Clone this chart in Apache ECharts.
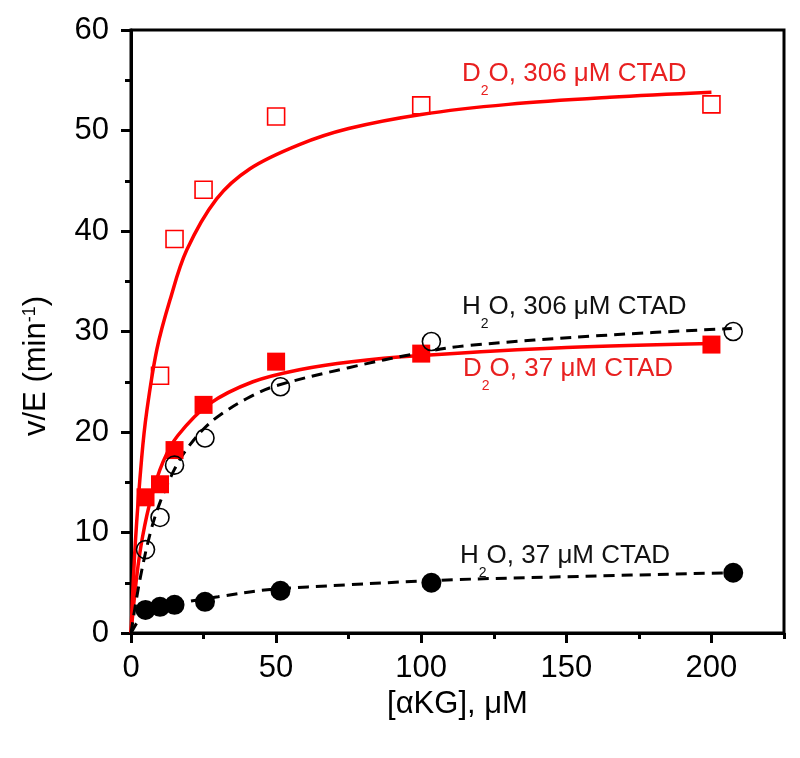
<!DOCTYPE html>
<html>
<head>
<meta charset="utf-8">
<script src="https://cdn.jsdelivr.net/npm/echarts@6/dist/echarts.min.js"></script>
<style>html,body{margin:0;padding:0;background:#fff}#c{width:800px;height:758px}</style>
</head>
<body>
<div id="c"></div>
<script>
// Tick values
const xMajorTicks = [0, 50, 100, 150, 200];
const xMinorTicks = [25, 75, 125, 175, 225];
const yMajorTicks = [0, 10, 20, 30, 40, 50, 60];
const yMinorTicks = [5, 15, 25, 35, 45, 55];

// Measured points
const d2o306X = [10, 15, 25, 50, 100, 200];
const d2o306Y = [25.6, 39.2, 44.1, 51.4, 52.5, 52.6];
const d2o37X = [5, 10, 15, 25, 50, 100, 200];
const d2o37Y = [13.5, 14.8, 18.2, 22.7, 27.0, 27.8, 28.7];
const h2o306X = [5, 10, 15, 25.5, 51.5, 103.5, 207.5];
const h2o306Y = [8.3, 11.5, 16.7, 19.4, 24.5, 29.0, 30.0];
const h2o37X = [5, 10, 15, 25.5, 51.5, 103.5, 207.5];
const h2o37Y = [2.3, 2.6, 2.8, 3.1, 4.2, 5.0, 6.0];

// Fitted curves
const fitD2o306X = [0, 1.5, 3.7, 5.4, 8.9, 13.4, 19.2, 29.5, 41, 58, 75, 100, 130, 165, 200];
const fitD2o306Y = [0, 9, 17.5, 22.0, 28.2, 33.1, 38.1, 43.2, 46.2, 48.6, 50.2, 51.6, 52.6, 53.3, 53.8];
const fitD2o37X = [0, 2, 4, 7, 11, 16, 27, 42, 58, 76, 100, 150, 200];
const fitD2o37Y = [0, 5.7, 9.6, 13.5, 17.0, 19.6, 22.8, 25.0, 26.2, 27.0, 27.6, 28.4, 28.8];
const fitH2o306X = [0, 3, 6.6, 10, 15, 19.2, 25, 30.7, 41, 50, 75, 100, 116, 162, 207];
const fitH2o306Y = [0, 5.2, 9.9, 13, 16.3, 18.3, 20.3, 21.7, 23.5, 24.6, 26.4, 27.9, 28.6, 29.6, 30.3];
const fitH2o37X = [0, 2, 4, 10, 19, 30, 47, 75, 111, 150, 207];
const fitH2o37Y = [0, 1.0, 1.8, 2.5, 3.1, 3.6, 4.3, 4.8, 5.3, 5.6, 6.0];

const zip = (xs, ys) => xs.map((x, i) => [x, ys[i]]);
const RED = '#ff0000';
const TXTRED = '#e82020';
const FONT = 'Liberation Sans, Arial, sans-serif';

const chart = echarts.init(document.getElementById('c'), null, {renderer: 'canvas'});

function labelText(main1, sub, main2, color) {
  return {
    text: '{a|' + main1 + '}{s|' + sub + '}{a|' + main2 + '}',
    rich: {
      a: {fontSize: 26, lineHeight: 30, fontFamily: FONT, fill: color, verticalAlign: 'top'},
      s: {fontSize: 14, lineHeight: 16, fontFamily: FONT, fill: color, verticalAlign: 'top', padding: [23, 0, 0, 0]}
    },
    align: 'left',
    verticalAlign: 'top'
  };
}

const lineCommon = {smooth: 0.35, showSymbol: false, symbol: 'none'};

const option = {
  animation: false,
  backgroundColor: '#fff',
  grid: {left: 131, right: 16, top: 30, bottom: 125, show: true, borderColor: '#000', borderWidth: 3, backgroundColor: 'transparent'},
  xAxis: [
    {
      type: 'value', min: 0, max: 225, position: 'bottom',
      axisLine: {show: true, onZero: false, lineStyle: {color: '#000', width: 3}},
      axisTick: {show: true, length: 10, customValues: xMajorTicks, lineStyle: {color: '#000', width: 3}},
      axisLabel: {show: true, customValues: xMajorTicks, margin: 20, fontSize: 31, fontFamily: FONT, color: '#000'},
      splitLine: {show: false},
      name: '[αKG], μM', nameLocation: 'middle', nameGap: 52,
      nameTextStyle: {fontSize: 31, fontFamily: FONT, color: '#000'}
    },
    {
      type: 'value', min: 0, max: 225, position: 'bottom',
      axisLine: {show: false},
      axisTick: {show: true, length: 6, customValues: xMinorTicks, lineStyle: {color: '#000', width: 3}},
      axisLabel: {show: false},
      splitLine: {show: false}
    }
  ],
  yAxis: [
    {
      type: 'value', min: 0, max: 60, position: 'left',
      axisLine: {show: true, onZero: false, lineStyle: {color: '#000', width: 3}},
      axisTick: {show: true, length: 10, customValues: yMajorTicks, lineStyle: {color: '#000', width: 3}},
      axisLabel: {show: true, customValues: yMajorTicks, margin: 22, fontSize: 31, fontFamily: FONT, color: '#000'},
      splitLine: {show: false}
    },
    {
      type: 'value', min: 0, max: 60, position: 'left',
      axisLine: {show: false},
      axisTick: {show: true, length: 6, customValues: yMinorTicks, lineStyle: {color: '#000', width: 3}},
      axisLabel: {show: false},
      splitLine: {show: false}
    }
  ],
  series: [
    Object.assign({type: 'line', data: zip(fitD2o306X, fitD2o306Y), lineStyle: {color: RED, width: 3.5}, z: 2}, lineCommon),
    Object.assign({type: 'line', data: zip(fitD2o37X, fitD2o37Y), lineStyle: {color: RED, width: 3.5}, z: 2}, lineCommon),
    Object.assign({type: 'line', data: zip(fitH2o306X, fitH2o306Y), lineStyle: {color: '#000', width: 3, type: [11, 7]}, z: 3}, lineCommon),
    Object.assign({type: 'line', data: zip(fitH2o37X, fitH2o37Y), lineStyle: {color: '#000', width: 3, type: [11, 7]}, z: 3}, lineCommon),
    {type: 'scatter', data: zip(d2o306X, d2o306Y), symbol: 'rect', symbolSize: 17,
     itemStyle: {color: 'rgba(0,0,0,0)', borderColor: RED, borderWidth: 1.6, opacity: 1}, z: 4},
    {type: 'scatter', data: zip(d2o37X, d2o37Y), symbol: 'rect', symbolSize: 18,
     itemStyle: {color: RED, borderColor: RED, borderWidth: 0, opacity: 1}, z: 4},
    {type: 'scatter', data: zip(h2o306X, h2o306Y), symbol: 'circle', symbolSize: 18,
     itemStyle: {color: 'rgba(0,0,0,0)', borderColor: '#000', borderWidth: 1.6, opacity: 1}, z: 4},
    {type: 'scatter', data: zip(h2o37X, h2o37Y), symbol: 'circle', symbolSize: 20,
     itemStyle: {color: '#000', borderColor: '#000', borderWidth: 0, opacity: 1}, z: 4}
  ],
  graphic: [
    {type: 'text', x: 462, y: 61, z: 10, style: labelText('D', '2', 'O, 306 μM CTAD', TXTRED)},
    {type: 'text', x: 462, y: 294, z: 10, style: labelText('H', '2', 'O, 306 μM CTAD', '#111')},
    {type: 'text', x: 463, y: 356, z: 10, style: labelText('D', '2', 'O, 37 μM CTAD', TXTRED)},
    {type: 'text', x: 460, y: 543, z: 10, style: labelText('H', '2', 'O, 37 μM CTAD', '#111')},
    {type: 'text', x: 39, y: 366, rotation: Math.PI / 2, z: 10,
     style: {
       text: '{a|v/E (min}{p|-1}{a|)}',
       rich: {
         a: {fontSize: 31, lineHeight: 36, fontFamily: FONT, fill: '#000', verticalAlign: 'top'},
         p: {fontSize: 18, lineHeight: 18, fontFamily: FONT, fill: '#000', verticalAlign: 'top', padding: [0, 0, 0, 0]}
       },
       align: 'center', verticalAlign: 'middle'
     }}
  ]
};
chart.setOption(option);
</script>
</body>
</html>
